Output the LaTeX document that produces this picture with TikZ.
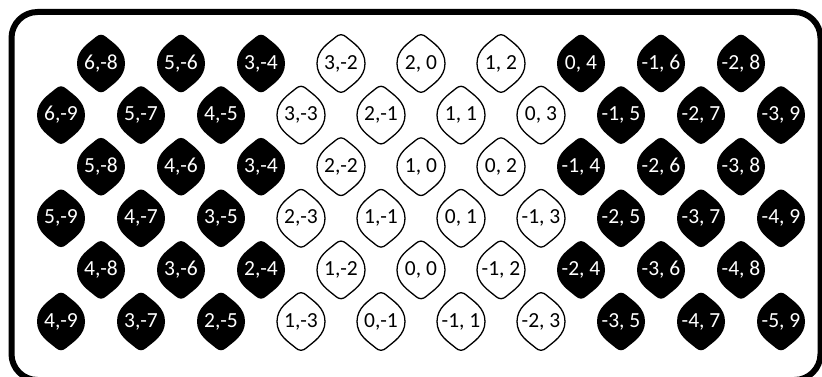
\documentclass[tikz,border=0pt]{standalone}
\usepackage{fontspec}
\setmainfont{Carlito}
\newcommand\lem[5]{% style, name, x, y, label
  \pic[#1] at (#3,#4) {lemon};
  \node[lbl#1] (#2) at (#3,#4) {#5};}
\begin{document}
\begin{tikzpicture}[x=1pt,y=-1pt,
  lemon/.pic={\path[pic actions] (0,-28.8)
      .. controls (2,-28.8) and (3.6,-27.8) .. (5.1,-26.6)
      .. controls (12,-20.6) and (24,-14) .. (24,0)
      .. controls (24,14) and (12,20.6) .. (5.1,26.6)
      .. controls (3.6,27.8) and (2,28.8) .. (0,28.8)
      .. controls (-2,28.8) and (-3.6,27.8) .. (-5.1,26.6)
      .. controls (-12,20.6) and (-24,14) .. (-24,0)
      .. controls (-24,-14) and (-12,-20.6) .. (-5.1,-26.6)
      .. controls (-3.6,-27.8) and (-2,-28.8) .. (0,-28.8) -- cycle;},
  blk/.style={fill=black},
  wht/.style={fill=white,draw=black,line width=1.3pt},
  lblblk/.style={text=white,font=\fontsize{21.5}{23}\selectfont,inner sep=0pt,minimum width=47pt,minimum height=58pt},
  lblwht/.style={lblblk,text=black},
  frame/.style={draw=black,line width=6pt,rounded corners=26pt}
]
\useasboundingbox (0,0) rectangle (822,377);
\clip (0,0) rectangle (822,377);
\draw[frame] (11.5,12) rectangle (820.5,380);
% row 1
\foreach \lab [count=\i] in {{6,-8},{5,-6},{3,-4},{3,-2},{2, 0},{1, 2},{0, 4},{-1, 6},{-2, 8}}{
  \pgfmathsetmacro\xx{101+80*(\i-1)}
  \ifnum\i<4 \lem{blk}{a\i}{\xx}{63.5}{\lab}\else\ifnum\i>6 \lem{blk}{a\i}{\xx}{63.5}{\lab}\else\lem{wht}{a\i}{\xx}{63.5}{\lab}\fi\fi
}
% row 2
\foreach \lab [count=\i] in {{6,-9},{5,-7},{4,-5},{3,-3},{2,-1},{1, 1},{0, 3},{-1, 5},{-2, 7},{-3, 9}}{
  \pgfmathsetmacro\xx{61+80*(\i-1)}
  \ifnum\i<4 \lem{blk}{b\i}{\xx}{115.1}{\lab}\else\ifnum\i>7 \lem{blk}{b\i}{\xx}{115.1}{\lab}\else\lem{wht}{b\i}{\xx}{115.1}{\lab}\fi\fi
}
% row 3
\foreach \lab [count=\i] in {{5,-8},{4,-6},{3,-4},{2,-2},{1, 0},{0, 2},{-1, 4},{-2, 6},{-3, 8}}{
  \pgfmathsetmacro\xx{101+80*(\i-1)}
  \ifnum\i<4 \lem{blk}{c\i}{\xx}{166.7}{\lab}\else\ifnum\i>6 \lem{blk}{c\i}{\xx}{166.7}{\lab}\else\lem{wht}{c\i}{\xx}{166.7}{\lab}\fi\fi
}
% row 4
\foreach \lab [count=\i] in {{5,-9},{4,-7},{3,-5},{2,-3},{1,-1},{0, 1},{-1, 3},{-2, 5},{-3, 7},{-4, 9}}{
  \pgfmathsetmacro\xx{61+80*(\i-1)}
  \ifnum\i<4 \lem{blk}{d\i}{\xx}{218.3}{\lab}\else\ifnum\i>7 \lem{blk}{d\i}{\xx}{218.3}{\lab}\else\lem{wht}{d\i}{\xx}{218.3}{\lab}\fi\fi
}
% row 5
\foreach \lab [count=\i] in {{4,-8},{3,-6},{2,-4},{1,-2},{0, 0},{-1, 2},{-2, 4},{-3, 6},{-4, 8}}{
  \pgfmathsetmacro\xx{101+80*(\i-1)}
  \ifnum\i<4 \lem{blk}{e\i}{\xx}{269.9}{\lab}\else\ifnum\i>6 \lem{blk}{e\i}{\xx}{269.9}{\lab}\else\lem{wht}{e\i}{\xx}{269.9}{\lab}\fi\fi
}
% row 6
\foreach \lab [count=\i] in {{4,-9},{3,-7},{2,-5},{1,-3},{0,-1},{-1, 1},{-2, 3},{-3, 5},{-4, 7},{-5, 9}}{
  \pgfmathsetmacro\xx{61+80*(\i-1)}
  \ifnum\i<4 \lem{blk}{f\i}{\xx}{321.5}{\lab}\else\ifnum\i>7 \lem{blk}{f\i}{\xx}{321.5}{\lab}\else\lem{wht}{f\i}{\xx}{321.5}{\lab}\fi\fi
}
\end{tikzpicture}
\end{document}
